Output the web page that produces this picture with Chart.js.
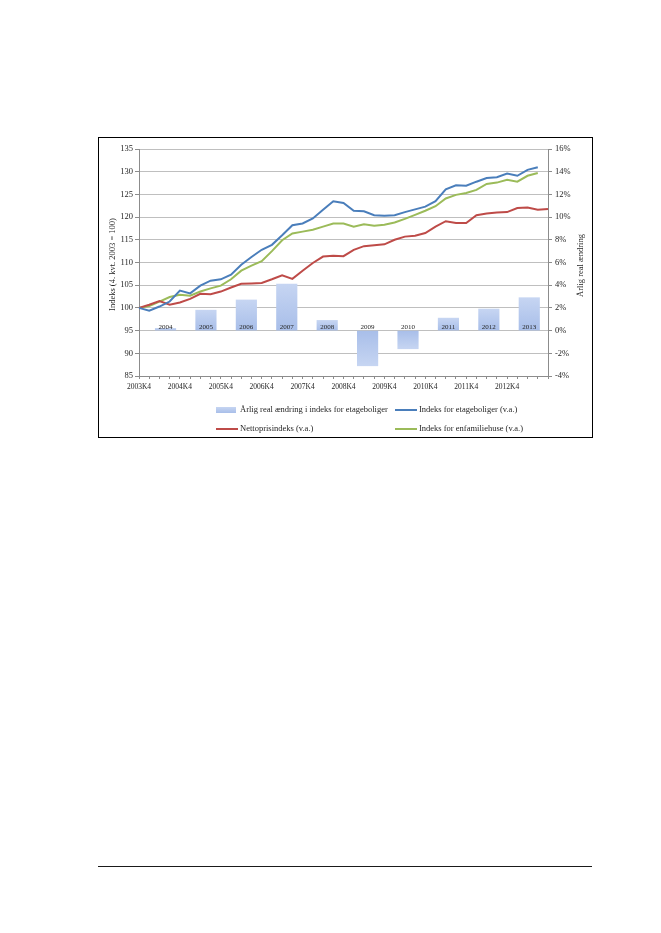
<!DOCTYPE html>
<html lang="da">
<head>
<meta charset="utf-8">
<script src="https://cdn.jsdelivr.net/npm/chart.js@4.4.1/dist/chart.umd.min.js"></script>
<style>
    html, body { margin: 0; padding: 0; background: #fff; }
    body { width: 661px; height: 933px; position: relative; overflow: hidden; }
    .chart-box {
        position: absolute; left: 98px; top: 137px;
        width: 493px; height: 299px; border: 1px solid #000;
    }
    .footer-line {
        position: absolute; left: 98px; top: 866px;
        width: 494px; height: 0; border-top: 1px solid #1a1a1a;
    }
</style>
</head>
<body>
<div class="chart-box"><canvas id="prisChart" width="493" height="299"></canvas></div>
<div class="footer-line"></div>
<script>
const quarters = [
    '2003K4', '2004K1', '2004K2', '2004K3', '2004K4', '2005K1', '2005K2', '2005K3', '2005K4',
    '2006K1', '2006K2', '2006K3', '2006K4', '2007K1', '2007K2', '2007K3', '2007K4',
    '2008K1', '2008K2', '2008K3', '2008K4', '2009K1', '2009K2', '2009K3', '2009K4',
    '2010K1', '2010K2', '2010K3', '2010K4', '2011K1', '2011K2', '2011K3', '2011K4',
    '2012K1', '2012K2', '2012K3', '2012K4', '2013K1', '2013K2', '2013K3', '2013K4'
];

// Indeks for etageboliger (v.a.)
const etageboliger = [
    100, 99.4, 100.3, 101.4, 103.8, 103.2, 104.9, 106.0, 106.3,
    107.3, 109.5, 111.2, 112.8, 113.9, 116.0, 118.2, 118.6,
    119.7, 121.6, 123.5, 123.1, 121.4, 121.3, 120.4, 120.3,
    120.4, 121.1, 121.7, 122.3, 123.5, 126.1, 127.0, 126.9,
    127.8, 128.6, 128.8, 129.6, 129.1, 130.4, 131.0, null
];

// Nettoprisindeks (v.a.)
const nettopris = [
    100, 100.7, 101.5, 100.7, 101.2, 102.0, 103.1, 103.0, 103.6,
    104.5, 105.3, 105.4, 105.5, 106.3, 107.2, 106.4, 108.2,
    109.9, 111.3, 111.5, 111.4, 112.8, 113.6, 113.8, 114.0,
    115.0, 115.7, 115.9, 116.5, 117.9, 119.1, 118.7, 118.7,
    120.4, 120.8, 121.0, 121.1, 122.0, 122.1, 121.6, 121.8
];

// Indeks for enfamiliehuse (v.a.)
const enfamiliehuse = [
    100, 100.4, 101.4, 102.4, 102.9, 102.7, 103.6, 104.3, 104.9,
    106.3, 108.2, 109.3, 110.3, 112.5, 114.9, 116.4, 116.8,
    117.2, 117.9, 118.6, 118.6, 117.9, 118.4, 118.1, 118.3,
    118.8, 119.6, 120.5, 121.4, 122.4, 124.1, 124.9, 125.3,
    126.0, 127.3, 127.6, 128.2, 127.8, 129.1, 129.7, null
];

// Årlig real ændring i indeks for etageboliger (h.a., pct.)
const changeYears = [2004, 2005, 2006, 2007, 2008, 2009, 2010, 2011, 2012, 2013];
const realChange = [0.2, 1.8, 2.7, 4.1, 0.9, -3.1, -1.6, 1.1, 1.9, 2.9];

const leftTicks = { min: 85, max: 135, step: 5 };
const rightTicks = { min: -4, max: 16, step: 2 };
// span of the hidden year axis that carries the bars
const barAxisRange = { min: 2003.09, max: 2013.21 };

const COLORS = {
    blue: '#4a7ebb',
    red: '#be4b48',
    green: '#9bbb59',
    barLight: '#c6d5f2',
    barDark: '#a8bee9',
    grid: '#bfbfbf',
    axis: '#8c8c8c',
    text: '#262626'
};

const LABELS = {
    bar: 'Årlig real ændring i indeks for etageboliger',
    blue: 'Indeks for etageboliger (v.a.)',
    red: 'Nettoprisindeks (v.a.)',
    green: 'Indeks for enfamiliehuse (v.a.)',
    left: 'Indeks (4. kvt. 2003 = 100)',
    right: 'Årlig real ændring'
};

const FONT = '"Liberation Serif", "DejaVu Serif", serif';
Chart.defaults.font.family = FONT;
Chart.defaults.color = COLORS.text;

function barGradient(context) {
    const chart = context.chart;
    const scale = chart.scales.y2;
    if (!chart.chartArea || !scale || !context.parsed) return COLORS.barDark;
    const v = context.parsed.y;
    const zero = scale.getPixelForValue(0);
    const end = scale.getPixelForValue(v);
    const g = chart.ctx.createLinearGradient(0, zero, 0, end);
    g.addColorStop(0, COLORS.barDark);
    g.addColorStop(1, COLORS.barLight);
    return g;
}

const extrasPlugin = {
    id: 'extras',
    afterDatasetsDraw(chart) {
        // year labels sitting just above the 0% line
        const ctx = chart.ctx;
        const meta = chart.getDatasetMeta(0);
        const zero = chart.scales.y2.getPixelForValue(0);
        ctx.save();
        ctx.font = '7px ' + FONT;
        ctx.fillStyle = COLORS.text;
        ctx.textAlign = 'center';
        ctx.textBaseline = 'alphabetic';
        meta.data.forEach((bar, i) => {
            ctx.fillText(String(changeYears[i]), bar.x, zero - 2);
        });
        ctx.restore();
    },
    afterDraw(chart) {
        const ctx = chart.ctx;
        const area = chart.chartArea;
        const midY = (area.top + area.bottom) / 2;

        ctx.save();
        ctx.fillStyle = COLORS.text;
        ctx.font = '8.5px ' + FONT;
        ctx.textAlign = 'center';
        ctx.textBaseline = 'middle';

        // axis titles (both read bottom to top)
        ctx.save();
        ctx.translate(14, midY + 2);
        ctx.rotate(-Math.PI / 2);
        ctx.fillText(LABELS.left, 0, 0);
        ctx.restore();

        ctx.save();
        ctx.translate(482, midY + 3);
        ctx.rotate(-Math.PI / 2);
        ctx.fillText(LABELS.right, 0, 0);
        ctx.restore();

        // legend, two columns
        const items = [
            { kind: 'bar', text: LABELS.bar, x: 117, y: 272 },
            { kind: 'line', color: COLORS.blue, text: LABELS.blue, x: 296, y: 272 },
            { kind: 'line', color: COLORS.red, text: LABELS.red, x: 117, y: 291 },
            { kind: 'line', color: COLORS.green, text: LABELS.green, x: 296, y: 291 }
        ];
        ctx.textAlign = 'left';
        items.forEach(item => {
            if (item.kind === 'bar') {
                const g = ctx.createLinearGradient(0, item.y - 3, 0, item.y + 3);
                g.addColorStop(0, COLORS.barLight);
                g.addColorStop(1, COLORS.barDark);
                ctx.fillStyle = g;
                ctx.fillRect(item.x, item.y - 3, 20, 6);
            } else {
                ctx.strokeStyle = item.color;
                ctx.lineWidth = 2;
                ctx.beginPath();
                ctx.moveTo(item.x, item.y);
                ctx.lineTo(item.x + 22, item.y);
                ctx.stroke();
            }
            ctx.fillStyle = COLORS.text;
            ctx.fillText(item.text, item.x + 24, item.y);
        });
        ctx.restore();
    }
};

const lineStyle = {
    type: 'line',
    xAxisID: 'x',
    yAxisID: 'y',
    borderWidth: 2,
    pointRadius: 0,
    tension: 0,
    fill: false,
    order: 0
};

new Chart(document.getElementById('prisChart'), {
    data: {
        labels: quarters,
        datasets: [
            {
                type: 'bar',
                label: LABELS.bar,
                data: changeYears.map((yr, i) => ({ x: yr, y: realChange[i] })),
                xAxisID: 'xb',
                yAxisID: 'y2',
                backgroundColor: barGradient,
                borderWidth: 0,
                barThickness: 20.5,
                order: 10
            },
            { ...lineStyle, label: LABELS.blue, data: etageboliger, borderColor: COLORS.blue },
            { ...lineStyle, label: LABELS.red, data: nettopris, borderColor: COLORS.red },
            { ...lineStyle, label: LABELS.green, data: enfamiliehuse, borderColor: COLORS.green }
        ]
    },
    options: {
        responsive: false,
        animation: false,
        events: [],
        layout: { padding: { top: 11, left: 0, right: 0, bottom: 0 } },
        plugins: {
            legend: { display: false },
            tooltip: { enabled: false }
        },
        scales: {
            x: {
                type: 'category',
                offset: false,
                grid: { drawOnChartArea: false, tickLength: 3, color: COLORS.axis },
                border: { color: COLORS.axis },
                ticks: {
                    autoSkip: false,
                    maxRotation: 0,
                    minRotation: 0,
                    padding: 4,
                    font: { size: 7.5 },
                    callback(value, index) {
                        return (index % 4 === 0 && index < quarters.length - 1) ? quarters[index] : '';
                    }
                },
                afterFit(scale) { scale.height = 61; }
            },
            xb: {
                type: 'linear',
                display: false,
                offset: false,
                min: barAxisRange.min,
                max: barAxisRange.max
            },
            y: {
                position: 'left',
                min: leftTicks.min,
                max: leftTicks.max,
                ticks: { stepSize: leftTicks.step, padding: 2, font: { size: 8.5 } },
                grid: { color: COLORS.grid, tickColor: COLORS.axis, tickLength: 4 },
                border: { color: COLORS.axis },
                afterFit(scale) { scale.width = 40; }
            },
            y2: {
                position: 'right',
                min: rightTicks.min,
                max: rightTicks.max,
                ticks: {
                    stepSize: rightTicks.step,
                    padding: 3,
                    font: { size: 8.5 },
                    callback: v => v + '%'
                },
                grid: { drawOnChartArea: false, tickLength: 4, color: COLORS.axis },
                border: { color: COLORS.axis },
                afterFit(scale) { scale.width = 44; }
            }
        }
    },
    plugins: [extrasPlugin]
});
</script>
</body>
</html>
